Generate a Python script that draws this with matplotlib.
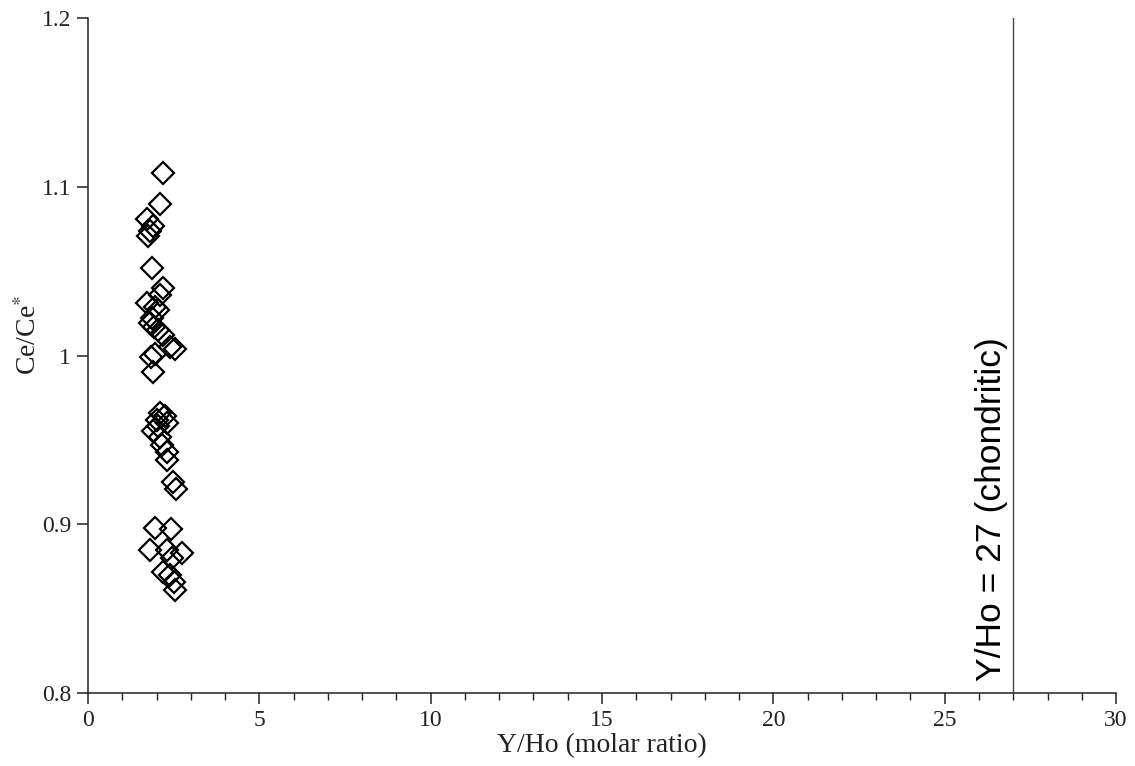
import numpy as np
import matplotlib
matplotlib.use("Agg")
import matplotlib.pyplot as plt
from matplotlib.ticker import MultipleLocator, FuncFormatter

plt.rcParams["font.family"] = ["Liberation Serif", "DejaVu Serif"]
plt.rcParams["mathtext.fontset"] = "stix"

# Y/Ho molar ratio vs Ce anomaly
y_ho = [2.19, 2.10, 1.72, 1.90, 1.82, 1.75, 1.86, 2.20, 2.10, 1.72,
        1.95, 2.05, 1.86, 1.80, 1.92, 2.05, 2.20, 2.54, 2.40, 1.95,
        1.85, 1.90, 2.10, 2.25, 2.00, 2.30, 2.05, 1.90, 2.10, 2.15,
        2.30, 2.30, 2.49, 2.57, 1.96, 2.42, 1.80, 2.30, 2.73, 2.44,
        2.20, 2.38, 2.52, 2.54]
ce_anom = [1.108, 1.090, 1.081, 1.077, 1.074, 1.071, 1.052, 1.040, 1.036, 1.031,
           1.029, 1.027, 1.022, 1.019, 1.017, 1.015, 1.012, 1.004, 1.005, 1.001,
           0.999, 0.990, 0.966, 0.964, 0.962, 0.960, 0.958, 0.955, 0.952, 0.947,
           0.943, 0.938, 0.925, 0.921, 0.898, 0.897, 0.885, 0.885, 0.883, 0.880,
           0.872, 0.870, 0.866, 0.861]

chondritic = 27
x_ticks = [0, 5, 10, 15, 20, 25, 30]
y_ticks = [0.8, 0.9, 1.0, 1.1, 1.2]

fig = plt.figure(figsize=(11.35, 7.66), dpi=100)
ax = fig.add_axes([0.0775, 0.0953, 0.9058, 0.8812])

ax.plot(y_ho, ce_anom, linestyle="none", marker="D", markersize=11.5,
        markerfacecolor="none", markeredgecolor="black", markeredgewidth=1.6)

ax.axvline(chondritic, color="#444444", linewidth=1.0)
ax.text(chondritic - 0.15, 0.807, "Y/Ho = 27 (chondritic)", rotation=90,
        ha="right", va="bottom", fontsize=25.5,
        family=["Liberation Sans", "DejaVu Sans"], color="black")

ax.set_xlim(0, 30)
ax.set_ylim(0.8, 1.2)
ax.set_xticks(x_ticks)
ax.set_yticks(y_ticks)
ax.xaxis.set_minor_locator(MultipleLocator(1))
ax.yaxis.set_major_formatter(FuncFormatter(lambda v, p: f"{v:g}"))

for side in ("top", "right"):
    ax.spines[side].set_visible(False)
for side in ("left", "bottom"):
    ax.spines[side].set_linewidth(1.1)
    ax.spines[side].set_color("#222222")

ax.tick_params(which="major", direction="out", length=8, width=1.1,
               labelsize=17, colors="#222222", pad=4)
ax.tick_params(which="minor", direction="out", length=5, width=1.0,
               colors="#222222")

ax.set_xlabel("Y/Ho (molar ratio)", fontsize=20, color="#222222", labelpad=2)
ax.set_ylabel("Ce/Ce$^{*}$", fontsize=20, color="#222222", va="center")
ax.yaxis.set_label_coords(-0.058, 0.53)

fig.savefig("out.png", dpi=100)
